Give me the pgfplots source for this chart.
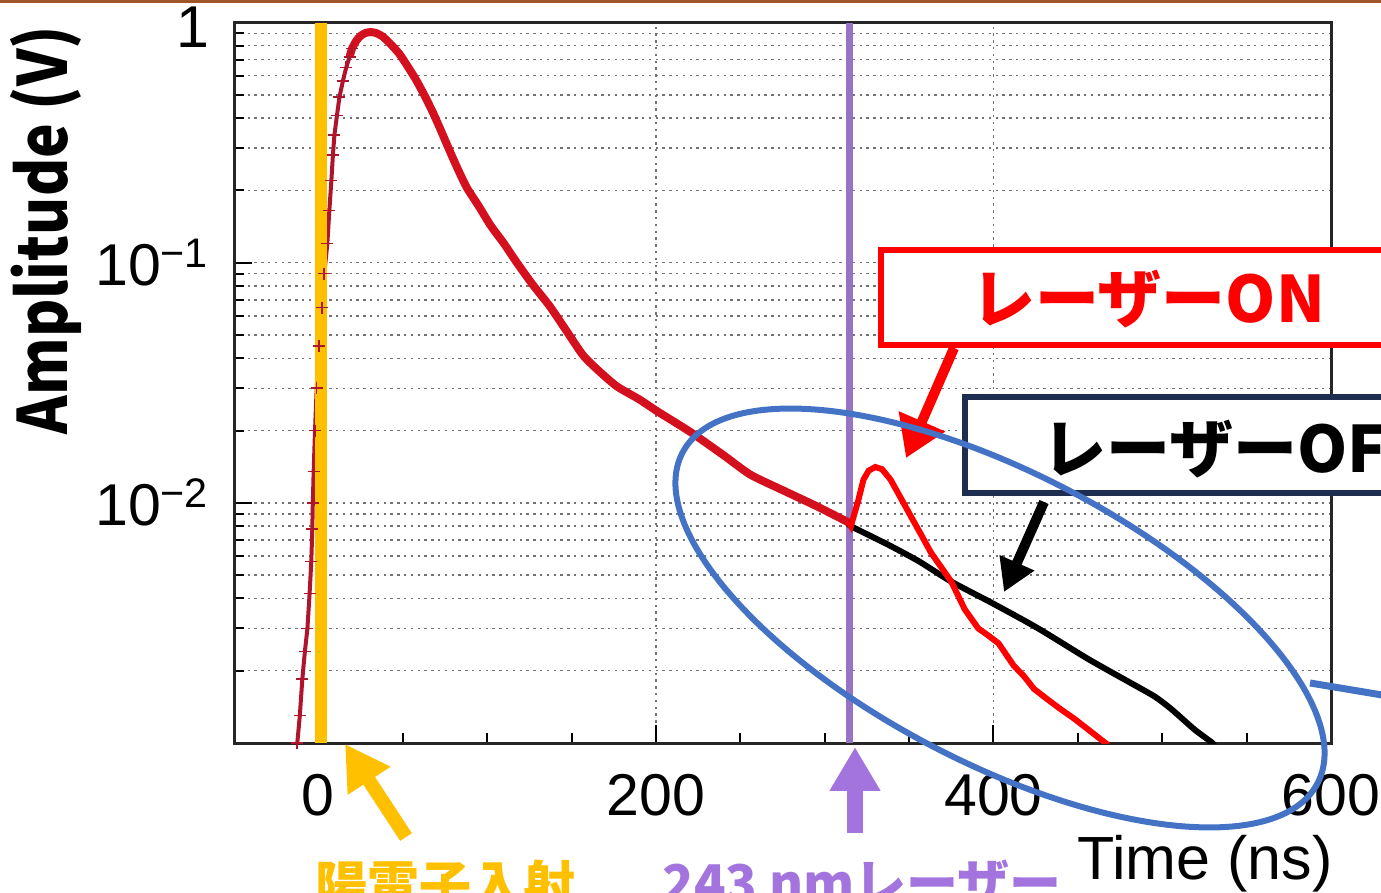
\documentclass[border=0pt]{standalone}
\usepackage{fontspec}
\setmainfont{Liberation Sans}
\newfontfamily\jp{Noto Sans CJK JP}
\usepackage{graphicx}
\usepackage{pgfplots}
\pgfplotsset{compat=1.18}
\usetikzlibrary{arrows.meta}

\definecolor{onred}{RGB}{212,16,30}
\definecolor{laserred}{RGB}{255,0,0}
\definecolor{risered}{RGB}{175,20,45}
\definecolor{posyel}{RGB}{255,192,0}
\definecolor{laspur}{RGB}{150,115,195}
\definecolor{txtpur}{RGB}{163,116,222}
\definecolor{ellblue}{RGB}{68,114,196}
\definecolor{navybox}{RGB}{31,45,80}
\definecolor{slidebrown}{RGB}{160,85,40}

\begin{document}
\begin{tikzpicture}
\path[use as bounding box, clip] (0,0) rectangle (690.5pt,446.5pt);
\begin{axis}[
  at={(117pt,75pt)}, anchor=south west,
  scale only axis, width=548.5pt, height=360.25pt,
  ymode=log, xmin=-50, xmax=600, ymin=1e-3, ymax=1,
  xtick={0,200,400,600},
  minor xtick={50,100,150,250,300,350,450,500,550},
  ytick={0.01,0.1,1},
  yticklabels={10\textsuperscript{−2},10\textsuperscript{−1},\raisebox{-2.5pt}[\height][0pt]{1}},
  minor ytick={0.002,0.003,0.004,0.005,0.006,0.007,0.008,0.009,0.02,0.03,0.04,0.05,0.06,0.07,0.08,0.09,0.2,0.3,0.4,0.5,0.6,0.7,0.8,0.9},
  tick pos=left, tick align=inside,
  major tick length=9pt, minor tick length=5pt,
  every tick/.style={black, line width=1pt},
  axis line style={line width=1.5pt, black!85},
  xmajorgrids, ymajorgrids, yminorgrids,
  major grid style={black!55, line width=0.7pt, dash pattern=on 1.2pt off 2.2pt},
  minor grid style={black!55, line width=0.7pt, dash pattern=on 1.2pt off 2.2pt},
  tick label style={font=\fontsize{29.5}{29.5}\selectfont},
  /pgf/number format/assume math mode=true,
  xticklabel style={yshift=-12pt},
  yticklabel style={xshift=-9pt},
  xlabel={Time (ns)},
  xlabel style={at={(axis description cs:0.885,-0.168)}, anchor=center, font=\fontsize{30.5}{30.5}\selectfont},
  ylabel={\scalebox{0.86}[1]{Amplitude (V)}},
  ylabel style={at={(axis description cs:-0.171,0.712)}, anchor=center, font=\jp\bfseries\fontsize{34}{34}\selectfont},
]
% 243 nm laser timing
\addplot[laspur, line width=3.5pt] coordinates {(314.5,0.001) (314.5,1)};
% laser OFF
\addplot[black, line width=3pt, smooth, tension=0.4] coordinates {
(150,0.049) (157,0.041) (167,0.035) (177,0.0305) (190,0.027) (201,0.024) (212,0.0215) (222,0.0194) (240,0.0158) (256,0.0131) (275,0.0113) (295,0.0097) (314,0.0083)
(315.5,0.0080) (337.5,0.0067) (356,0.0057) (375,0.0047) (400,0.0038) (426.5,0.0030) (456,0.00224) (480,0.0018) (495.6,0.00156) (505.6,0.00138) (519,0.00114) (529,0.00101) (531,0.00098)};
% rising edge
\addplot[risered, line width=2pt, mark=+, mark size=3pt, mark options={line width=0.8pt}] coordinates {
(-12.5,0.001) (-11,0.0013) (-9.5,0.00185) (-8,0.0024) (-6.5,0.003) (-5.2,0.0042) (-4.2,0.0057) (-3.6,0.0078) (-3.3,0.010) (-2.8,0.0135) (-2,0.02) (-1,0.03) (0.5,0.045) (2,0.065) (3.5,0.09) (5.3,0.12) (6.5,0.165) (7.7,0.22) (8.6,0.28) (9.5,0.34) (11,0.41) (12.5,0.49) (14.5,0.57) (16.5,0.65) (18.5,0.72) (20,0.78)};
% laser ON (main)
\addplot[onred, line width=4pt, smooth, tension=0.4] coordinates {
(18.5,0.72) (20,0.78) (22.5,0.84) (25,0.88) (28,0.905) (31,0.912) (34,0.905) (38,0.875) (43,0.81) (48,0.74) (53,0.655) (58,0.575) (63,0.495) (68,0.42) (73,0.35) (78,0.29) (83,0.242) (88,0.205) (95,0.172) (102,0.143) (110,0.12) (117.6,0.1) (127,0.081) (137,0.066) (147,0.052) (157,0.041) (167,0.035) (177,0.0305) (190,0.027) (201,0.024) (212,0.0215) (222,0.0194) (240,0.0158) (256,0.0131) (275,0.0113) (295,0.0097) (314,0.0083)};
% laser ON after the laser pulse
\addplot[laserred, line width=3pt] coordinates {
(314,0.0083) (315.5,0.0080) (318,0.0092) (320,0.0103) (323,0.0125) (326,0.0136) (330,0.0141) (334,0.0138) (339,0.0125) (345,0.0105) (351,0.0088) (357,0.0074) (363,0.0062) (369,0.0054) (375,0.0047) (383,0.0036) (391,0.0030) (397,0.0028) (403,0.0026) (412,0.0021) (418,0.0019) (424,0.00168) (432,0.00152) (440,0.00138) (448,0.00126) (456,0.00114) (464,0.00103) (468,0.00098)};
% positron injection timing
\addplot[posyel, line width=6pt] coordinates {(1.5,0.001) (1.5,1)};
\end{axis}

\begin{scope}[x=0.5pt, y=-0.5pt, yshift=446.5pt]
\draw[slidebrown, line width=1.5pt] (0,1.5) -- (1381,1.5);
% laser ON box
\draw[laserred, line width=3pt, fill=white] (881,250) rectangle (1420,345);
\node[laserred, font=\jp\bfseries\fontsize{32}{32}\selectfont, inner sep=0] at (1148,299) {レーザーON};
\draw[laserred, line width=5pt, -{Triangle[length=20pt,width=24pt]}] (954,348) -- (906,458);
% laser OFF box
\draw[navybox, line width=3pt, fill=white] (965,397) rectangle (1420,493);
\node[black, font=\jp\bfseries\fontsize{32}{32}\selectfont, anchor=west, inner sep=0] at (1042,449) {レーザーOFF};
\draw[black, line width=5pt, -{Triangle[length=16pt,width=18pt]}] (1044,502) -- (1004,592);
% ellipse
\draw[ellblue, line width=3pt, rotate around={-27.5:(1000,618)}] (1000,618) ellipse [x radius=358, y radius=145];
\draw[ellblue, line width=3.5pt] (1310,683) -- (1400,698);
% arrows below axis
\draw[posyel, line width=7pt, -{Triangle[length=22pt,width=24pt]}] (406,837) -- (345,744);
\draw[txtpur, line width=8pt, -{Triangle[length=22pt,width=24pt]}] (855,833) -- (855,747);
\node[posyel, font=\jp\bfseries\fontsize{26}{26}\selectfont, anchor=north west, inner sep=0] at (315,860) {陽電子入射};
\node[txtpur, font=\jp\bfseries\fontsize{26}{26}\selectfont, anchor=north west, inner sep=0] at (662,860) {243 nmレーザー};
\end{scope}
\end{tikzpicture}
\end{document}
